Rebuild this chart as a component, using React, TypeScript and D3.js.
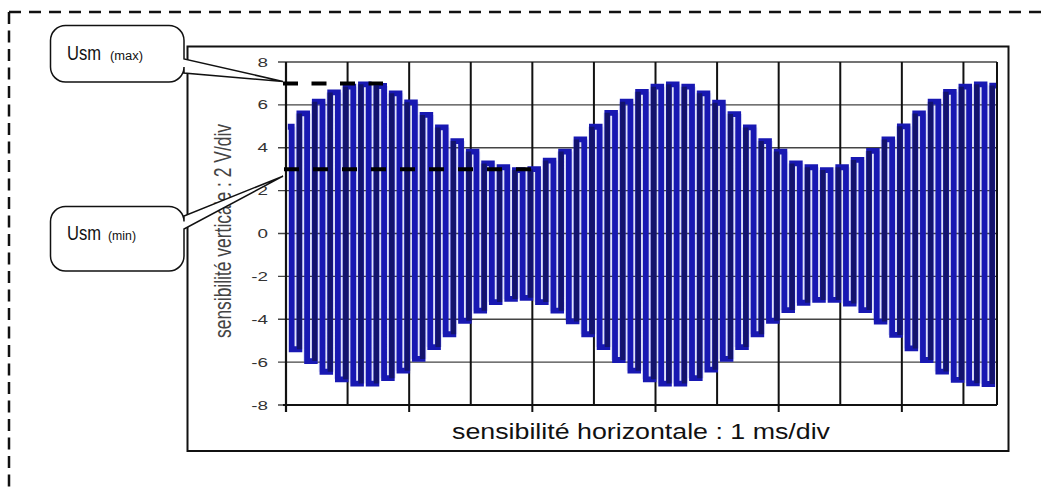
import React from "react";
import * as d3 from "d3";

// ---- data ----
const peakTimes = [0.03,0.28,0.53,0.78,1.03,1.28,1.53,1.78,2.03,2.28,2.53,2.78,3.03,3.28,3.53,3.78,4.03,4.28,4.53,4.78,5.03,5.28,5.53,5.78,6.03,6.28,6.53,6.78,7.03,7.28,7.53,7.78,8.03,8.28,8.53,8.78,9.03,9.28,9.53,9.78,10.03,10.28,10.53,10.78,11.03,11.28,11.53];
const peakValues = [4.98,5.6,6.15,6.58,6.85,6.96,6.88,6.54,6.12,5.53,4.95,4.31,3.82,3.27,3.09,2.96,3.0,3.4,3.82,4.39,4.98,5.63,6.15,6.61,6.85,6.96,6.85,6.54,6.1,5.57,4.95,4.31,3.82,3.27,3.09,2.96,3.09,3.43,3.85,4.39,5.0,5.6,6.15,6.61,6.85,6.96,6.9];
const troughTimes = [0.155,0.405,0.655,0.905,1.155,1.405,1.655,1.905,2.155,2.405,2.655,2.905,3.155,3.405,3.655,3.905,4.155,4.405,4.655,4.905,5.155,5.405,5.655,5.905,6.155,6.405,6.655,6.905,7.155,7.405,7.655,7.905,8.155,8.405,8.655,8.905,9.155,9.405,9.655,9.905,10.155,10.405,10.655,10.905,11.155,11.405];
const troughValues = [-5.4,-5.95,-6.45,-6.8,-7.0,-7.0,-6.75,-6.4,-5.85,-5.3,-4.7,-4.07,-3.6,-3.2,-3.05,-3.0,-3.2,-3.6,-4.1,-4.7,-5.3,-5.9,-6.4,-6.8,-7.0,-7.0,-6.75,-6.35,-5.85,-5.3,-4.7,-4.07,-3.57,-3.23,-3.1,-3.1,-3.27,-3.57,-4.11,-4.73,-5.36,-5.9,-6.44,-6.83,-6.99,-7.02];
const yTicks = [8,6,4,2,0,-2,-4,-6,-8];
const xGrid = [0,1,2,3,4,5,6,7,8,9,10,11];
const xTicks = [0,2,4,6,8,10];
const usmMax = 7;
const usmMin = 3;
const yTitle = "sensibilité verticale : 2 V/div";
const xTitle = "sensibilité horizontale : 1 ms/div";

const W = 1049, H = 491;
const FONT = "'Liberation Sans', Arial, sans-serif";

function calloutPath(x0: number, y0: number, x1: number, y1: number, r: number, p1: number, p2: number, tx: number, ty: number) {
  return `M${x0 + r},${y0} H${x1 - r} A${r},${r} 0 0 1 ${x1},${y0 + r} V${p1} L${tx},${ty} L${x1},${p2} V${y1 - r} A${r},${r} 0 0 1 ${x1 - r},${y1} H${x0 + r} A${r},${r} 0 0 1 ${x0},${y1 - r} V${y0 + r} A${r},${r} 0 0 1 ${x0 + r},${y0} Z`;
}

export default function App() {
  const x = d3.scaleLinear().domain([0, 11.545]).range([286, 997]);
  const y = d3.scaleLinear().domain([-8, 8]).range([405, 62]);

  const pts: [number, number][] = [];
  peakTimes.forEach((t, i) => {
    pts.push([t, peakValues[i]]);
    if (i < troughTimes.length) pts.push([troughTimes[i], troughValues[i]]);
  });
  const stepLine = d3.line<[number, number]>().x(d => x(d[0])).y(d => y(d[1])).curve(d3.curveStep);
  const signalPath = stepLine(pts) || "";

  const envPts: [number, number][] = [
    ...peakTimes.map((t, i) => [t, peakValues[i]] as [number, number]),
    ...troughTimes.map((t, i) => [t, troughValues[i]] as [number, number]).reverse(),
  ];
  const envPath = (d3.line<[number, number]>().x(d => x(d[0])).y(d => y(d[1])).curve(d3.curveStep)(envPts) || "") + "Z";

  // rising edges (trough -> next peak), drawn darker
  const rising = troughTimes.map((t, i) => {
    const xm = (x(t) + x(peakTimes[i + 1])) / 2;
    return { xm, y1: y(troughValues[i]), y2: y(peakValues[i + 1]) };
  });

  return (
    <svg width={W} height={H} style={{ position: "absolute", left: 0, top: 0, background: "#fff" }}>
      <defs>
        <clipPath id="plotclip">
          <rect x={286} y={50} width={711} height={360} />
        </clipPath>
      </defs>
      {/* outer dashed border */}
      <line x1={9} y1={12} x2={1046} y2={12} stroke="#111" strokeWidth={2.5} strokeDasharray="12 8" />
      <line x1={9} y1={12} x2={9} y2={491} stroke="#111" strokeWidth={2.5} strokeDasharray="12 6.5" />

      {/* chart frame */}
      <rect x={187.5} y={46.5} width={821} height={404.5} fill="#fff" stroke="#111" strokeWidth={2} />

      {/* envelope haze */}
      <path d={envPath} fill="#dfe2f8" clipPath="url(#plotclip)" />

      {/* horizontal grid */}
      {yTicks.map(v => (
        <line key={"h" + v} x1={278} x2={997} y1={y(v)} y2={y(v)} stroke="#444" strokeWidth={1.3} />
      ))}
      {/* vertical grid */}
      {xGrid.map(v => (
        <line key={"v" + v} x1={x(v)} x2={x(v)} y1={y(8)} y2={y(-8)} stroke="#111" strokeWidth={2} />
      ))}
      <line x1={997} x2={997} y1={y(8)} y2={y(-8)} stroke="#111" strokeWidth={2} />

      {/* signal */}
      <g clipPath="url(#plotclip)">
        <path d={signalPath} fill="none" stroke="#1818b2" strokeWidth={5.8} strokeLinejoin="miter" />
        {rising.map((r, i) => (
          <line key={"r" + i} x1={r.xm} x2={r.xm} y1={r.y1} y2={r.y2} stroke="#13136c" strokeWidth={5} />
        ))}
      </g>

      {/* axes */}
      <line x1={283} x2={997} y1={y(-8)} y2={y(-8)} stroke="#111" strokeWidth={2.2} />
      <line x1={x(0)} x2={x(0)} y1={y(8)} y2={412} stroke="#111" strokeWidth={2.2} />
      {xTicks.map(v => (
        <line key={"t" + v} x1={x(v)} x2={x(v)} y1={y(-8)} y2={412} stroke="#111" strokeWidth={2} />
      ))}
      {yTicks.map(v => (
        <text key={"l" + v} transform={`translate(268,${y(v) + 4.6}) scale(1.45,1)`} textAnchor="end"
          fontFamily={FONT} fontSize={13} fill="#333">{v}</text>
      ))}
      <text transform={`translate(231,231) rotate(-90) scale(1,1.9)`} textAnchor="middle" fontFamily={FONT}
        fontSize={13} fill="#444" textLength={214} lengthAdjust="spacingAndGlyphs">{yTitle}</text>
      <text x={452} y={439} fontFamily={FONT} fontSize={22} fill="#111" textLength={378} lengthAdjust="spacingAndGlyphs">{xTitle}</text>

      {/* annotation dashed levels */}
      <line x1={283} x2={383} y1={y(usmMax)} y2={y(usmMax)} stroke="#000" strokeWidth={4} strokeDasharray="15 13.5" />
      <line x1={284} x2={538} y1={y(usmMin)} y2={y(usmMin)} stroke="#000" strokeWidth={4} strokeDasharray="15 14" />

      {/* callouts */}
      <path d={calloutPath(50.5, 25.5, 184, 82, 15, 59, 73, 283, y(usmMax) - 2)} fill="#fff" stroke="#111" strokeWidth={1.5} />
      <text x={67} y={60} fontFamily={FONT} fontSize={20} fill="#111" textLength={34} lengthAdjust="spacingAndGlyphs">Usm</text>
      <text x={110} y={60} fontFamily={FONT} fontSize={12} fill="#111" textLength={33} lengthAdjust="spacingAndGlyphs">(max)</text>

      <path d={calloutPath(50.5, 206.5, 184, 271, 15, 216, 229, 283, y(usmMin) + 7)} fill="#fff" stroke="#111" strokeWidth={1.5} />
      <text x={67} y={240} fontFamily={FONT} fontSize={20} fill="#111" textLength={34} lengthAdjust="spacingAndGlyphs">Usm</text>
      <text x={108} y={240} fontFamily={FONT} fontSize={12} fill="#111" textLength={28} lengthAdjust="spacingAndGlyphs">(min)</text>
    </svg>
  );
}
